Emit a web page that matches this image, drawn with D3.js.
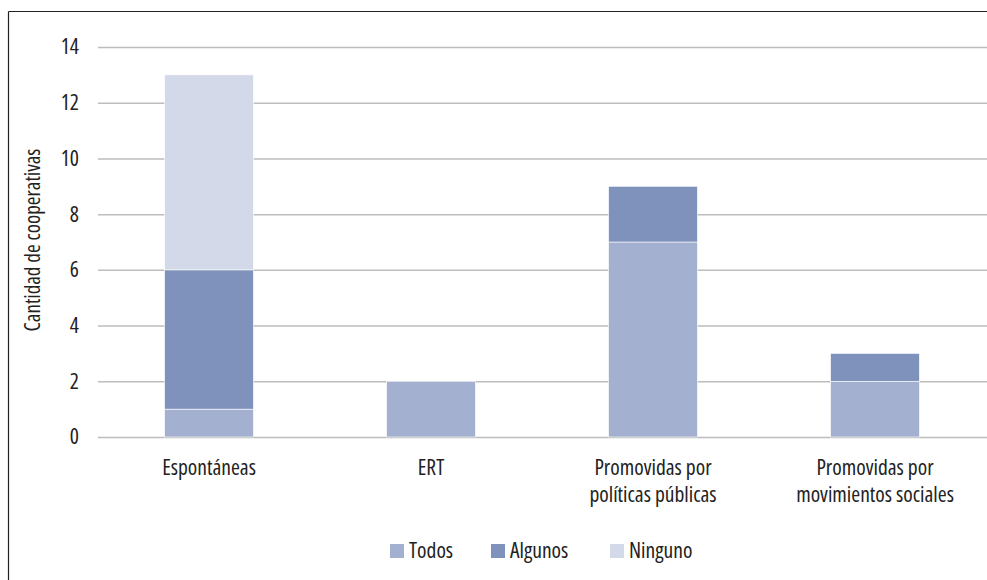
<!DOCTYPE html>
<html>
<head>
<meta charset="utf-8">
<script src="https://cdn.jsdelivr.net/npm/d3@7"></script>
<style>
  html, body { margin: 0; padding: 0; background: #fff; }
  svg { display: block; }
  svg text { font-family: "Open Sans", sans-serif; font-stretch: condensed; }
</style>
</head>
<body>
<svg id="chart" width="987" height="580"></svg>
<script>
const categories = ["Espontáneas", "ERT", "Promovidas por\npolíticas públicas", "Promovidas por\nmovimientos sociales"];
const seriesNames = ["Todos", "Algunos", "Ninguno"];
const todos = [1, 2, 7, 2];
const algunos = [5, 0, 2, 1];
const ninguno = [7, 0, 0, 0];
const yTicks = [0, 2, 4, 6, 8, 10, 12, 14];
const colors = ["#a4b0cf", "#7f92bb", "#d3d9e8"];
const yLabel = "Cantidad de cooperativas";

const FONT = '"Open Sans", sans-serif';
const svg = d3.select("#chart");
const W = 987, H = 580;
const plot = { left: 98, right: 986, top: 47, bottom: 437 };

// frame
svg.append("line").attr("x1", 8.5).attr("x2", 8.5).attr("y1", 11.5).attr("y2", H).attr("stroke", "#222").attr("stroke-width", 1.2);
svg.append("line").attr("x1", 8.5).attr("x2", W).attr("y1", 11.5).attr("y2", 11.5).attr("stroke", "#222").attr("stroke-width", 1.2);

const rows = categories.map((c, i) => ({ cat: c, Todos: todos[i], Algunos: algunos[i], Ninguno: ninguno[i] }));
const stack = d3.stack().keys(seriesNames)(rows);

const x = d3.scaleBand().domain(categories).range([plot.left, plot.right]).paddingInner(0.6).paddingOuter(0.3);
const y = d3.scaleLinear().domain([0, 14]).range([plot.bottom, plot.top]);

// gridlines + y tick labels
const yAxis = d3.axisLeft(y).tickValues(yTicks).tickSize(-(W - plot.left)).tickPadding(19);
const gy = svg.append("g").attr("transform", `translate(${plot.left},0)`).call(yAxis)
  .attr("font-family", FONT).attr("font-size", 21.5);
gy.select(".domain").remove();
gy.selectAll(".tick line").attr("stroke", "#bdbdbd").attr("stroke-width", 1.5);
gy.selectAll(".tick text").attr("fill", "#222");

// bars
svg.append("g").selectAll("g").data(stack).join("g")
  .attr("fill", (d, i) => colors[i])
  .selectAll("rect").data(d => d.filter(s => s[1] - s[0] > 0)).join("rect")
  .attr("x", d => x(d.data.cat))
  .attr("width", x.bandwidth())
  .attr("y", d => y(d[1]))
  .attr("height", d => y(d[0]) - y(d[1]))
  .attr("stroke", "#fff").attr("stroke-width", 0.6);

// x labels
const xAxis = d3.axisBottom(x).tickSize(0).tickPadding(0);
const gx = svg.append("g").attr("transform", `translate(0,${plot.bottom})`).call(xAxis)
  .attr("font-family", FONT).attr("font-size", 21.5);
gx.select(".domain").remove();
gx.selectAll(".tick text").each(function(d) {
  const t = d3.select(this);
  t.text(null).attr("fill", "#222").attr("y", 0).attr("dy", null);
  d.split("\n").forEach((line, i) => {
    t.append("tspan").attr("x", 0).attr("y", 38 + i * 27).text(line);
  });
});

// y label
svg.append("text")
  .attr("transform", `translate(40,${(plot.top + plot.bottom) / 2 - 2}) rotate(-90)`)
  .attr("text-anchor", "middle")
  .attr("font-size", 21).attr("fill", "#222")
  .text(yLabel);

// legend
const legendX = [390, 491, 610];
const lg = svg.append("g");
seriesNames.forEach((s, i) => {
  lg.append("rect").attr("x", legendX[i]).attr("y", 544).attr("width", 14).attr("height", 14).attr("fill", colors[i]);
  lg.append("text").attr("x", legendX[i] + 19).attr("y", 558).attr("font-size", 21.5).attr("fill", "#222").text(s);
});
</script>
</body>
</html>
